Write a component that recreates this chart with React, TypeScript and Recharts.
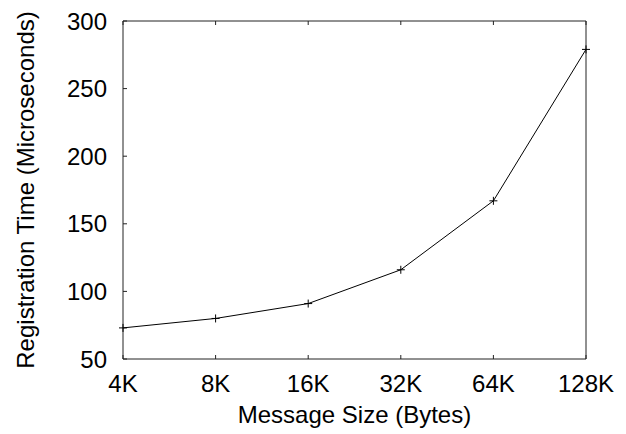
import { LineChart, Line, XAxis, YAxis, Label } from "recharts";

// message sizes along x
const sizes = ["4K", "8K", "16K", "32K", "64K", "128K"];
// registration time in microseconds
const regTime = [73, 80, 91, 116, 167, 279];
const yTicks = [50, 100, 150, 200, 250, 300];

const data = sizes.map((s, i) => ({ size: s, time: regTime[i] }));

const font = "'Liberation Sans', Arial, Helvetica, sans-serif";

// gnuplot style "+" point
function PlusDot(props: any) {
  const { cx, cy } = props;
  if (cx == null || cy == null) return null;
  return (
    <g>
      <line x1={cx - 4} y1={cy} x2={cx + 4} y2={cy} stroke="#000" strokeWidth={1} />
      <line x1={cx} y1={cy - 4} x2={cx} y2={cy + 4} stroke="#000" strokeWidth={1} />
    </g>
  );
}

// mirror axes only need tick marks, no labels
const NoLabel = () => <g />;

export default function App() {
  const tickStyle = { fill: "#000", fontSize: 24, fontFamily: font };
  return (
    <div style={{ position: "absolute", left: 0, top: 0, background: "#fff" }}>
      <LineChart
        width={626}
        height={434}
        data={data}
        margin={{ top: 20, right: 39, bottom: 0, left: 0 }}
      >
        <XAxis
          dataKey="size"
          height={75}
          stroke="#222"
          tickSize={-4}
          tickMargin={20}
          tick={tickStyle}
          interval={0}
        >
          <Label
            value="Message Size (Bytes)"
            position="insideBottom"
            offset={11}
            style={{ fill: "#000", fontSize: 24, fontFamily: font }}
          />
        </XAxis>
        <XAxis
          xAxisId="top"
          dataKey="size"
          orientation="top"
          height={1}
          stroke="#222"
          tickSize={-4}
          tick={NoLabel}
          interval={0}
        />
        <YAxis
          yAxisId="left"
          width={123}
          domain={[50, 300]}
          ticks={yTicks}
          stroke="#222"
          tickSize={-4}
          tickMargin={20}
          tick={tickStyle}
        >
          <Label
            value="Registration Time (Microseconds)"
            angle={-90}
            position="insideLeft"
            offset={25}
            style={{ fill: "#000", fontSize: 24, fontFamily: font, textAnchor: "middle" }}
          />
        </YAxis>
        <YAxis
          yAxisId="right"
          orientation="right"
          width={1}
          domain={[50, 300]}
          ticks={yTicks}
          stroke="#222"
          tickSize={-4}
          tick={NoLabel}
        />
        <Line
          yAxisId="left"
          type="linear"
          dataKey="time"
          stroke="#000"
          strokeWidth={1}
          dot={<PlusDot />}
          activeDot={false}
          isAnimationActive={false}
        />
      </LineChart>
    </div>
  );
}
